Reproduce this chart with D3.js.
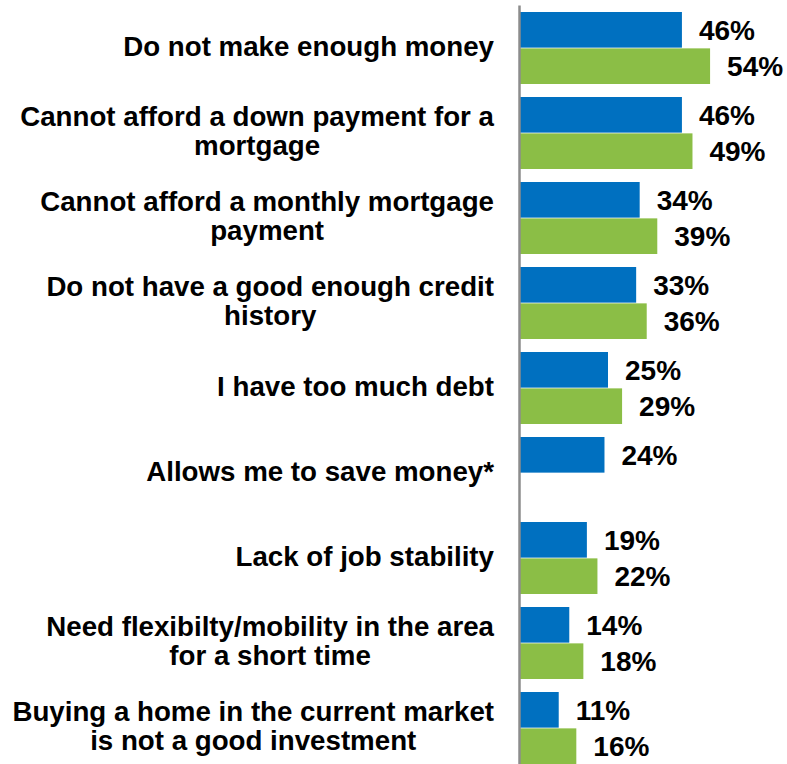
<!DOCTYPE html>
<html>
<head>
<meta charset="utf-8">
<script src="https://cdn.jsdelivr.net/npm/d3@7"></script>
<style>
  html, body { margin: 0; padding: 0; background: #fff; }
  svg { display: block; }
  text { font-family: "Liberation Sans", Arial, Helvetica, sans-serif; font-weight: bold; fill: #000; }
</style>
</head>
<body>
<script>
// ---- Data ----
const categories = [
  "Do not make enough money",
  "Cannot afford a down payment for a\nmortgage",
  "Cannot afford a monthly mortgage\npayment",
  "Do not have a good enough credit\nhistory",
  "I have too much debt",
  "Allows me to save money*",
  "Lack of job stability",
  "Need flexibilty/mobility in the area\nfor a short time",
  "Buying a home in the current market\nis not a good investment"
];
const seriesNames = ["Series 1", "Series 2"];
const series1 = [46, 46, 34, 33, 25, 24, 19, 14, 11];
const series2 = [54, 49, 39, 36, 29, null, 22, 18, 16];
const seriesColors = ["#0070C0", "#8BBE46"];

// ---- Layout ----
const W = 787, H = 764;
const svg = d3.select("body").append("svg").attr("width", W).attr("height", H);

const x = d3.scaleLinear().domain([0, 60]).range([520, 731.2]);
const y = d3.scaleBand().domain(categories).range([5.5, 770.5])
  .paddingInner(13 / 85).paddingOuter(13 / 170);
const ySub = d3.scaleBand().domain(seriesNames).range([0, y.bandwidth()]).paddingInner(0.02);

const rows = categories.map((c, i) => ({
  cat: c,
  vals: [
    { s: seriesNames[0], v: series1[i], color: seriesColors[0] },
    { s: seriesNames[1], v: series2[i], color: seriesColors[1] }
  ].filter(d => d.v != null)
}));

const groups = svg.selectAll("g.grp").data(rows).join("g")
  .attr("class", "grp")
  .attr("transform", d => `translate(0,${y(d.cat)})`);

groups.selectAll("rect").data(d => d.vals).join("rect")
  .attr("x", x(0))
  .attr("y", d => ySub(d.s))
  .attr("width", d => x(d.v) - x(0))
  .attr("height", ySub.bandwidth())
  .attr("fill", d => d.color);

groups.selectAll("text.val").data(d => d.vals).join("text")
  .attr("class", "val")
  .attr("x", d => x(d.v) + 17)
  .attr("y", d => ySub(d.s) + ySub.bandwidth() / 2)
  .attr("dy", "0.35em")
  .style("font-size", "28px")
  .text(d => d.v + "%");

// ---- Category labels (centered block, right edge aligned) ----
const lineH = 28.5;
const labelRight = 494;
rows.forEach(r => {
  const lines = r.cat.split("\n");
  const cy = y(r.cat) + y.bandwidth() / 2 - 2;
  const t = svg.append("text")
    .attr("text-anchor", "middle")
    .style("font-size", "27.7px");
  const spans = lines.map((ln, i) => t.append("tspan")
    .attr("y", cy + (i - (lines.length - 1) / 2) * lineH)
    .attr("dy", "0.35em")
    .text(ln));
  const maxW = d3.max(spans, s => s.node().getComputedTextLength());
  spans.forEach(s => s.attr("x", labelRight - maxW / 2));
});

// ---- Axis line ----
svg.append("line")
  .attr("x1", 519.5).attr("x2", 519.5)
  .attr("y1", 5.5).attr("y2", H)
  .attr("stroke", "#8c8c8c")
  .attr("stroke-width", 2.5);
</script>
</body>
</html>
